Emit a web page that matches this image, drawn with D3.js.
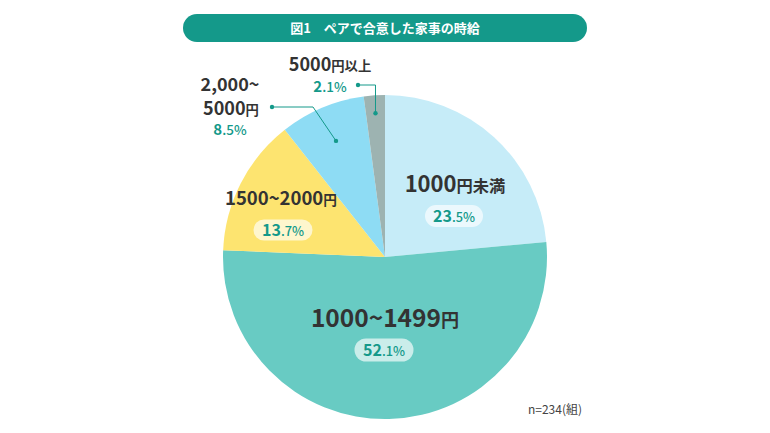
<!DOCTYPE html>
<html><head><meta charset="utf-8">
<script src="https://cdn.jsdelivr.net/npm/d3@7"></script>
<style>
html,body{margin:0;padding:0;background:#fff;}
svg{display:block;font-family:"Noto Sans CJK JP","Noto Sans",sans-serif;}
</style></head>
<body><svg id="c" width="770" height="433"></svg>
<script>
const title = "図1　ペアで合意した家事の時給";
const categories = ["1000円未満", "1000~1499円", "1500~2000円", "2,000~5000円", "5000円以上"];
const values = [23.5, 52.1, 13.7, 8.5, 2.1];
const colors = ["#c6ecf8", "#68cbc3", "#fde470", "#8edcf4", "#9db3b1"];
const note = "n=234(組)";

const svg = d3.select("#c");
const cx = 385, cy = 257, R = 162;
const teal = "#14998a", dark = "#333333";

// title bar
svg.append("rect").attr("x",183).attr("y",14).attr("width",404).attr("height",28).attr("rx",14).attr("fill",teal);
svg.append("text").attr("x",385).attr("y",33).attr("text-anchor","middle").attr("fill","#fff")
  .attr("font-size",13).attr("font-weight",700).text(title);

const pie = d3.pie().sort(null).value(d=>d)(values);
const arc = d3.arc().innerRadius(0).outerRadius(R);
const g = svg.append("g").attr("transform",`translate(${cx},${cy})`);
g.selectAll("path").data(pie).join("path").attr("d",arc).attr("fill",(d,i)=>colors[i]);

function polar(a, r){ return [cx + r*Math.sin(a), cy - r*Math.cos(a)]; }

function label(x, y, big, small, size, anchor){
  const t = svg.append("text").attr("x",x).attr("y",y).attr("text-anchor",anchor||"middle")
    .attr("fill",dark).attr("font-weight",700).attr("font-size",size);
  t.append("tspan").text(big);
  if (small) t.append("tspan").attr("font-size",size*0.74).text(small);
  return t;
}
function pct(x, y, v, size, pill, ratio){
  const s = v.toFixed(1); const [a,b] = s.split(".");
  if (pill){
    svg.append("rect").attr("x",x-pill[0]/2).attr("y",y-pill[1]/2).attr("width",pill[0]).attr("height",pill[1])
      .attr("rx",pill[1]/2).attr("fill","#ffffff").attr("fill-opacity",0.65);
  }
  const t = svg.append("text").attr("x",x).attr("y",y+size*0.36).attr("text-anchor","middle")
    .attr("fill",teal).attr("font-weight",700).attr("font-size",size);
  t.append("tspan").text(a);
  t.append("tspan").attr("font-size",size*(ratio||0.8)).attr("font-weight",500).text("."+b+"%");
}

// 1000円未満
label(455, 192, "1000", "円未満", 22);
pct(454, 216, values[0], 16, [58,22]);
// 1000~1499円
label(385, 327, "1000~1499", "円", 24.5);
pct(384, 350, values[1], 16, [59,23]);
// 1500~2000円
label(281, 205, "1500~2000", "円", 18.5);
pct(283, 230, values[2], 16, [59,21]);
// 2,000~5000円
label(230, 91, "2,000~", null, 18);
label(231, 115, "5000", "円", 18);
pct(230, 130, values[3], 15, null, 0.9);
// 5000円以上
label(330, 71, "5000", "円以上", 18);
pct(330, 87, values[4], 15, null, 0.9);

// leader lines
const mids = pie.map(d=>(d.startAngle+d.endAngle)/2);
const p3 = polar(mids[3], 126), p4 = polar(mids[4], 144);
svg.append("path").attr("d",`M272,107H313L${p3[0]},${p3[1]}`).attr("fill","none").attr("stroke",teal).attr("stroke-width",1);
svg.append("path").attr("d",`M358,85H${p4[0]}V${p4[1]}`).attr("fill","none").attr("stroke",teal).attr("stroke-width",1);
[[272,107],p3,[358,85],p4].forEach(p=>svg.append("circle").attr("cx",p[0]).attr("cy",p[1]).attr("r",2.2).attr("fill",teal));

svg.append("text").attr("x",555).attr("y",414).attr("text-anchor","middle").attr("fill","#444")
  .attr("font-size",12).text(note);
</script></body></html>
